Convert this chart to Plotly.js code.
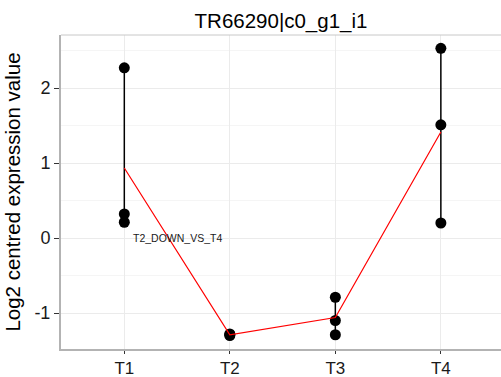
<!DOCTYPE html>
<html>
<head>
<meta charset="utf-8">
<script src="https://cdn.plot.ly/plotly-3.0.1.min.js"></script>
<style>html,body{margin:0;padding:0;background:#fff;}#chart{width:501px;height:377px;}</style>
</head>
<body>
<div id="chart"></div>
<script>
const categories = ["T1", "T2", "T3", "T4"];
const rep1 = [2.27, -1.29, -0.79, 2.53];
const rep2 = [0.32, -1.28, -1.10, 1.51];
const rep3 = [0.21, -1.30, -1.29, 0.20];
const yTickVals = [-1, 0, 1, 2];
const yTickText = ["-1", "0", "1", "2"];
const chartTitle = "TR66290|c0_g1_i1";
const yTitle = "Log2 centred expression value";
const labelText = "T2_DOWN_VS_T4";

const FONT = "Liberation Sans, Arial, Helvetica, sans-serif";
const traces = [];

// vertical range segments
categories.forEach((c, i) => {
  const vals = [rep1[i], rep2[i], rep3[i]];
  traces.push({
    x: [c, c], y: [Math.min(...vals), Math.max(...vals)],
    type: "scatter", mode: "lines",
    line: {color: "#000", width: 1.5},
    hoverinfo: "skip", showlegend: false
  });
});

// points
const px = [], py = [];
categories.forEach((c, i) => {
  [rep1[i], rep2[i], rep3[i]].forEach(v => { px.push(c); py.push(v); });
});
traces.push({
  x: px, y: py, type: "scatter", mode: "markers",
  marker: {color: "#000", size: 11}, showlegend: false
});

// mean line
const means = categories.map((c, i) => (rep1[i] + rep2[i] + rep3[i]) / 3);
traces.push({
  x: categories, y: means, type: "scatter", mode: "lines",
  line: {color: "#ff0000", width: 1.2}, showlegend: false
});

const layout = {
  width: 501, height: 377,
  margin: {l: 61, r: 0, t: 35, b: 28},
  paper_bgcolor: "#fff", plot_bgcolor: "#fff",
  font: {family: FONT, color: "#000"},
  title: {
    text: chartTitle, font: {size: 20.5, color: "#000", family: FONT},
    x: 0.5, xref: "paper", y: 1 - 21 / 377, yref: "container", yanchor: "middle"
  },
  xaxis: {
    type: "category", categoryorder: "array", categoryarray: categories,
    range: [-0.6, 3.57],
    showgrid: true, gridcolor: "#ebebeb", gridwidth: 1,
    showline: true, linecolor: "#b3b3b3", linewidth: 2,
    ticks: "outside", ticklen: 3, tickcolor: "#333", tickwidth: 1,
    tickfont: {size: 17, color: "#1a1a1a", family: FONT},
    zeroline: false, fixedrange: true
  },
  yaxis: {
    range: [-1.48, 2.707],
    tickmode: "array", tickvals: yTickVals, ticktext: yTickText,
    showgrid: true, gridcolor: "#ebebeb", gridwidth: 1,
    minor: {tick0: 0, dtick: 0.5, showgrid: true, gridcolor: "#f5f5f5", gridwidth: 1, ticklen: 0},
    showline: true, linecolor: "#b3b3b3", linewidth: 2,
    ticks: "outside", ticklen: 5, tickcolor: "#333", tickwidth: 1,
    tickfont: {size: 18, color: "#1a1a1a", family: FONT},
    zeroline: false,
    title: {text: yTitle, font: {size: 20.5, color: "#000", family: FONT}, standoff: 8},
    fixedrange: true
  },
  shapes: [{
    type: "line", xref: "paper", yref: "paper", x0: 0, x1: 1, y0: 1, y1: 1,
    line: {color: "#c8c8c8", width: 1}
  }],
  annotations: [{
    x: 0.5, y: 0, xref: "x", yref: "y", text: labelText, showarrow: false,
    font: {size: 10.5, color: "#1a1a1a", family: FONT}, xanchor: "center", yanchor: "middle"
  }]
};

Plotly.newPlot("chart", traces, layout, {displayModeBar: false, staticPlot: true});
</script>
</body>
</html>
